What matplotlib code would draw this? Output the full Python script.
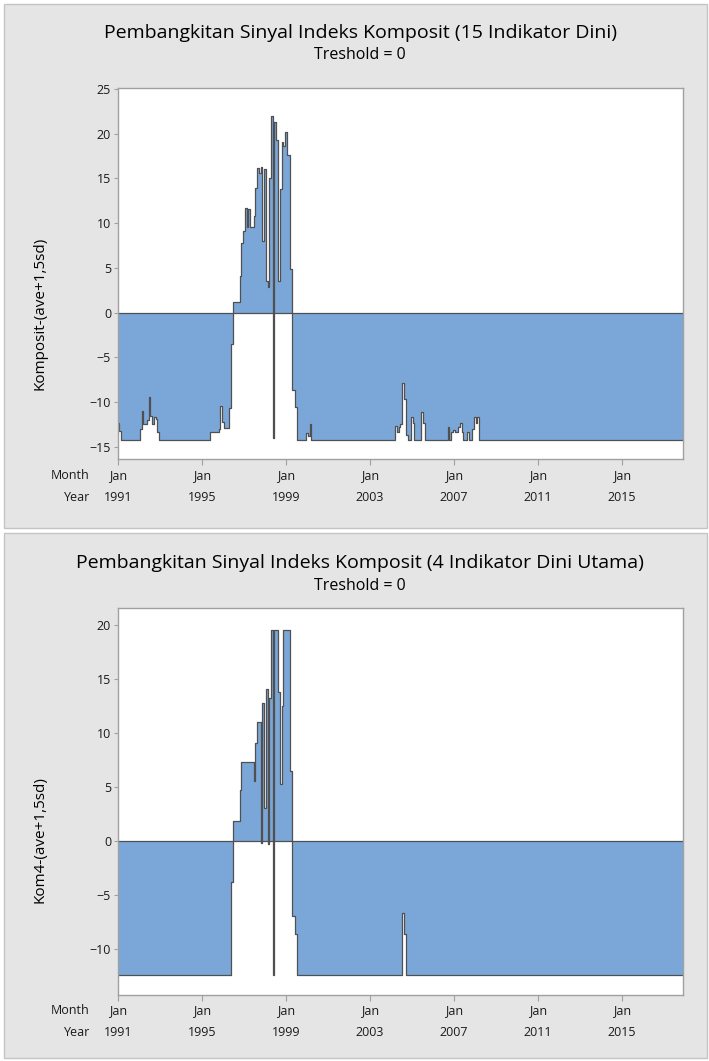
import matplotlib.pyplot as plt
from matplotlib.patches import Rectangle
import numpy as np
import pandas as pd

plt.rcParams['font.family'] = ['Open Sans', 'DejaVu Sans']

FILL_COLOR = '#7BA6D8'
LINE_COLOR = '#505050'
PANEL_COLOR = '#E5E5E5'
AXIS_COLOR = '#A0A0A0'

# monthly values, Jan 1991 .. Dec 2017 (one row per year)
komposit15 = [
  -12.4, -13.2, -14.2, -14.2, -14.2, -14.2, -14.2, -14.2, -14.2, -14.2, -14.2, -14.2,  # 1991
  -14.2, -13.0, -11.0, -12.5, -12.5, -12.0, -9.4, -11.6, -12.5, -11.7, -11.9, -13.3,   # 1992
  -14.2, -14.2, -14.2, -14.2, -14.2, -14.2, -14.2, -14.2, -14.2, -14.2, -14.2, -14.2,  # 1993
  -14.2, -14.2, -14.2, -14.2, -14.2, -14.2, -14.2, -14.2, -14.2, -14.2, -14.2, -14.2,  # 1994
  -14.2, -14.2, -14.2, -14.2, -14.2, -13.3, -13.3, -13.3, -13.3, -13.3, -13.0, -10.4,  # 1995
  -12.2, -12.9, -12.9, -12.9, -10.7, -3.5, 1.2, 1.2, 1.2, 1.2, 4.1, 7.8,              # 1996
  9.1, 11.7, 9.5, 11.6, 9.5, 9.5, 10.8, 13.9, 16.1, 15.6, 16.3, 8.0,                   # 1997
  16.0, 3.5, 2.8, 15.0, 22.0, -14.0, 21.3, 19.3, 3.5, 13.8, 19.1, 18.6,                # 1998
  20.2, 17.6, 17.6, 4.9, -8.7, -8.7, -10.6, -14.2, -14.2, -14.2, -14.2, -14.2,         # 1999
  -13.5, -13.8, -12.5, -14.2, -14.2, -14.2, -14.2, -14.2, -14.2, -14.2, -14.2, -14.2,  # 2000
  -14.2, -14.2, -14.2, -14.2, -14.2, -14.2, -14.2, -14.2, -14.2, -14.2, -14.2, -14.2,  # 2001
  -14.2, -14.2, -14.2, -14.2, -14.2, -14.2, -14.2, -14.2, -14.2, -14.2, -14.2, -14.2,  # 2002
  -14.2, -14.2, -14.2, -14.2, -14.2, -14.2, -14.2, -14.2, -14.2, -14.2, -14.2, -14.2,  # 2003
  -14.2, -14.2, -14.2, -12.7, -13.3, -12.8, -12.5, -7.9, -9.7, -13.7, -14.2, -14.2,    # 2004
  -11.7, -12.4, -14.2, -14.2, -14.2, -14.2, -11.1, -12.4, -14.2, -14.2, -14.2, -14.2,  # 2005
  -14.2, -14.2, -14.2, -14.2, -14.2, -14.2, -14.2, -14.2, -14.2, -12.8, -14.2, -13.3,  # 2006
  -13.1, -13.3, -13.3, -12.8, -12.4, -13.3, -14.2, -14.2, -13.3, -14.2, -14.2, -13.0,  # 2007
  -11.7, -12.4, -11.7, -14.2, -14.2, -14.2, -14.2, -14.2, -14.2, -14.2, -14.2, -14.2,  # 2008
  -14.2, -14.2, -14.2, -14.2, -14.2, -14.2, -14.2, -14.2, -14.2, -14.2, -14.2, -14.2,  # 2009
  -14.2, -14.2, -14.2, -14.2, -14.2, -14.2, -14.2, -14.2, -14.2, -14.2, -14.2, -14.2,  # 2010
  -14.2, -14.2, -14.2, -14.2, -14.2, -14.2, -14.2, -14.2, -14.2, -14.2, -14.2, -14.2,  # 2011
  -14.2, -14.2, -14.2, -14.2, -14.2, -14.2, -14.2, -14.2, -14.2, -14.2, -14.2, -14.2,  # 2012
  -14.2, -14.2, -14.2, -14.2, -14.2, -14.2, -14.2, -14.2, -14.2, -14.2, -14.2, -14.2,  # 2013
  -14.2, -14.2, -14.2, -14.2, -14.2, -14.2, -14.2, -14.2, -14.2, -14.2, -14.2, -14.2,  # 2014
  -14.2, -14.2, -14.2, -14.2, -14.2, -14.2, -14.2, -14.2, -14.2, -14.2, -14.2, -14.2,  # 2015
  -14.2, -14.2, -14.2, -14.2, -14.2, -14.2, -14.2, -14.2, -14.2, -14.2, -14.2, -14.2,  # 2016
  -14.2, -14.2, -14.2, -14.2, -14.2, -14.2, -14.2, -14.2, -14.2, -14.2, -14.2, -14.2,  # 2017
]

kom4 = [
  -12.4, -12.4, -12.4, -12.4, -12.4, -12.4, -12.4, -12.4, -12.4, -12.4, -12.4, -12.4,  # 1991
  -12.4, -12.4, -12.4, -12.4, -12.4, -12.4, -12.4, -12.4, -12.4, -12.4, -12.4, -12.4,  # 1992
  -12.4, -12.4, -12.4, -12.4, -12.4, -12.4, -12.4, -12.4, -12.4, -12.4, -12.4, -12.4,  # 1993
  -12.4, -12.4, -12.4, -12.4, -12.4, -12.4, -12.4, -12.4, -12.4, -12.4, -12.4, -12.4,  # 1994
  -12.4, -12.4, -12.4, -12.4, -12.4, -12.4, -12.4, -12.4, -12.4, -12.4, -12.4, -12.4,  # 1995
  -12.4, -12.4, -12.4, -12.4, -12.4, -3.8, 1.8, 1.8, 1.8, 1.8, 4.7, 7.3,              # 1996
  7.3, 7.3, 7.3, 7.3, 7.3, 7.3, 5.5, 9.1, 11.0, 11.0, -0.2, 12.8,                      # 1997
  3.0, 14.1, -0.3, 13.2, 19.5, -12.4, 19.5, 19.5, 13.8, 5.3, 12.5, 19.5,               # 1998
  19.5, 19.5, 19.5, 6.5, -7.0, -7.0, -8.6, -12.4, -12.4, -12.4, -12.4, -12.4,          # 1999
  -12.4, -12.4, -12.4, -12.4, -12.4, -12.4, -12.4, -12.4, -12.4, -12.4, -12.4, -12.4,  # 2000
  -12.4, -12.4, -12.4, -12.4, -12.4, -12.4, -12.4, -12.4, -12.4, -12.4, -12.4, -12.4,  # 2001
  -12.4, -12.4, -12.4, -12.4, -12.4, -12.4, -12.4, -12.4, -12.4, -12.4, -12.4, -12.4,  # 2002
  -12.4, -12.4, -12.4, -12.4, -12.4, -12.4, -12.4, -12.4, -12.4, -12.4, -12.4, -12.4,  # 2003
  -12.4, -12.4, -12.4, -12.4, -12.4, -12.4, -12.4, -6.7, -8.6, -12.4, -12.4, -12.4,    # 2004
  -12.4, -12.4, -12.4, -12.4, -12.4, -12.4, -12.4, -12.4, -12.4, -12.4, -12.4, -12.4,  # 2005
  -12.4, -12.4, -12.4, -12.4, -12.4, -12.4, -12.4, -12.4, -12.4, -12.4, -12.4, -12.4,  # 2006
  -12.4, -12.4, -12.4, -12.4, -12.4, -12.4, -12.4, -12.4, -12.4, -12.4, -12.4, -12.4,  # 2007
  -12.4, -12.4, -12.4, -12.4, -12.4, -12.4, -12.4, -12.4, -12.4, -12.4, -12.4, -12.4,  # 2008
  -12.4, -12.4, -12.4, -12.4, -12.4, -12.4, -12.4, -12.4, -12.4, -12.4, -12.4, -12.4,  # 2009
  -12.4, -12.4, -12.4, -12.4, -12.4, -12.4, -12.4, -12.4, -12.4, -12.4, -12.4, -12.4,  # 2010
  -12.4, -12.4, -12.4, -12.4, -12.4, -12.4, -12.4, -12.4, -12.4, -12.4, -12.4, -12.4,  # 2011
  -12.4, -12.4, -12.4, -12.4, -12.4, -12.4, -12.4, -12.4, -12.4, -12.4, -12.4, -12.4,  # 2012
  -12.4, -12.4, -12.4, -12.4, -12.4, -12.4, -12.4, -12.4, -12.4, -12.4, -12.4, -12.4,  # 2013
  -12.4, -12.4, -12.4, -12.4, -12.4, -12.4, -12.4, -12.4, -12.4, -12.4, -12.4, -12.4,  # 2014
  -12.4, -12.4, -12.4, -12.4, -12.4, -12.4, -12.4, -12.4, -12.4, -12.4, -12.4, -12.4,  # 2015
  -12.4, -12.4, -12.4, -12.4, -12.4, -12.4, -12.4, -12.4, -12.4, -12.4, -12.4, -12.4,  # 2016
  -12.4, -12.4, -12.4, -12.4, -12.4, -12.4, -12.4, -12.4, -12.4, -12.4, -12.4, -12.4,  # 2017
]

titles = ["Pembangkitan Sinyal Indeks Komposit (15 Indikator Dini)",
          "Pembangkitan Sinyal Indeks Komposit (4 Indikator Dini Utama)"]
subtitle = "Treshold = 0"
ylabels = ["Komposit-(ave+1,5sd)", "Kom4-(ave+1,5sd)"]
yticks_1 = [-15, -10, -5, 0, 5, 10, 15, 20, 25]
yticks_2 = [-10, -5, 0, 5, 10, 15, 20]

W, H = 709, 1061
PX = 0.72  # points per pixel at dpi 100


def fx(px):
  return px / W


def fy(py):
  return 1 - py / H


def area_panel(fig, rect, dates, values, yticks, ylim):
  ax = fig.add_axes(rect)
  ax.fill_between(dates, 0, values, step='mid', color=FILL_COLOR, linewidth=0, zorder=1)
  ax.plot(dates, values, drawstyle='steps-mid', color=LINE_COLOR, lw=0.9, zorder=2)
  ax.axhline(0, color=LINE_COLOR, lw=0.9, zorder=2)

  ax.set_xlim(dates[0], dates[-1])
  ax.set_ylim(*ylim)
  ax.set_yticks(yticks)
  ax.tick_params(axis='y', length=3, width=0.8, color=AXIS_COLOR, pad=2,
                 labelsize=9, labelcolor='#1A1A1A')

  # x axis: Jan ticks every 4 years, month and year rows as text
  tick_dates = dates[::48]
  ax.set_xticks(tick_dates)
  ax.set_xticklabels([])
  ax.tick_params(axis='x', length=4, width=0.8, color=AXIS_COLOR)
  for d in tick_dates:
    ax.annotate("Jan", xy=(d, 0), xycoords=('data', 'axes fraction'),
                xytext=(0, -16 * PX), textcoords='offset points',
                ha='center', va='center', fontsize=9, color='#1A1A1A')
    ax.annotate(str(d.year), xy=(d, 0), xycoords=('data', 'axes fraction'),
                xytext=(0, -38 * PX), textcoords='offset points',
                ha='center', va='center', fontsize=9, color='#1A1A1A')
  ax.annotate("Month", xy=(0, 0), xycoords='axes fraction',
              xytext=(-28 * PX, -16 * PX), textcoords='offset points',
              ha='right', va='center', fontsize=9, color='#1A1A1A')
  ax.annotate("Year", xy=(0, 0), xycoords='axes fraction',
              xytext=(-28 * PX, -38 * PX), textcoords='offset points',
              ha='right', va='center', fontsize=9, color='#1A1A1A')

  for s in ax.spines.values():
    s.set_color(AXIS_COLOR)
    s.set_linewidth(1.0)

  return ax


dates = pd.date_range("1991-01-01", periods=len(komposit15), freq="MS")

fig = plt.figure(figsize=(W / 100, H / 100), dpi=100)
fig.patch.set_facecolor('white')

# grey panel backgrounds
for top, bottom in [(4, 528), (533, 1058)]:
  fig.patches.append(Rectangle((fx(4), fy(bottom)), fx(703), (bottom - top) / H,
                               transform=fig.transFigure, facecolor=PANEL_COLOR,
                               edgecolor='#C4C4C4', lw=1.0, zorder=-1))

# panel 1
ax1 = area_panel(fig, [fx(118), fy(459.3), fx(565), (459.3 - 88.3) / H],
                 dates, komposit15, yticks_1, (-16.4, 25.05))
fig.text(fx(360), fy(33), titles[0], ha='center', va='center', fontsize=14)
fig.text(fx(360), fy(55), subtitle, ha='center', va='center', fontsize=11.5)
fig.text(fx(40), fy(313), ylabels[0], ha='center', va='center', rotation=90, fontsize=11)

# panel 2
ax2 = area_panel(fig, [fx(118), fy(995), fx(565), (995 - 608.3) / H],
                 dates, kom4, yticks_2, (-14.3, 21.55))
fig.text(fx(360), fy(563), titles[1], ha='center', va='center', fontsize=14)
fig.text(fx(360), fy(586), subtitle, ha='center', va='center', fontsize=11.5)
fig.text(fx(40), fy(840), ylabels[1], ha='center', va='center', rotation=90, fontsize=11)

fig.savefig("out.png", dpi=100, facecolor=fig.get_facecolor())
